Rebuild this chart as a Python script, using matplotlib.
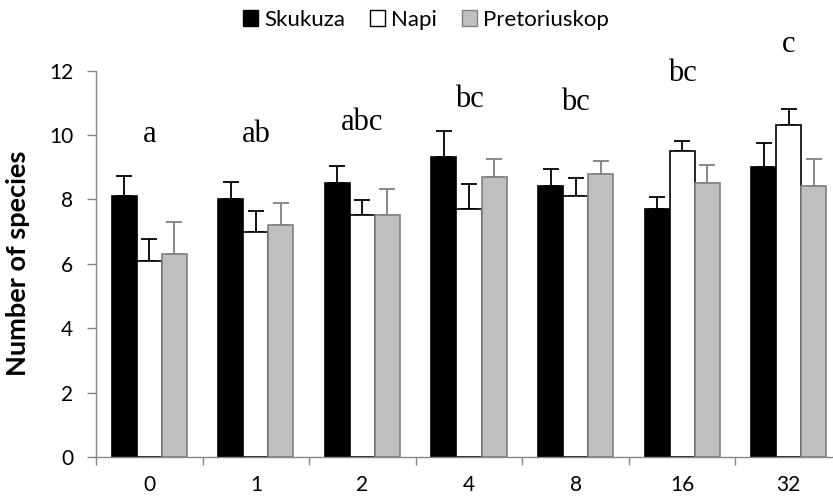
import matplotlib
matplotlib.use("Agg")
import matplotlib.pyplot as plt
import numpy as np
from matplotlib.patches import Patch

categories = ["0", "1", "2", "4", "8", "16", "32"]
sites = ["Skukuza", "Napi", "Pretoriuskop"]

skukuza = [8.1, 8.0, 8.5, 9.3, 8.4, 7.7, 9.0]
skukuza_err = [0.62, 0.53, 0.53, 0.83, 0.53, 0.38, 0.75]
napi = [6.1, 7.0, 7.5, 7.7, 8.1, 9.5, 10.3]
napi_err = [0.67, 0.65, 0.48, 0.78, 0.55, 0.32, 0.52]
pretoriuskop = [6.3, 7.2, 7.5, 8.7, 8.8, 8.5, 8.4]
pretoriuskop_err = [1.0, 0.7, 0.82, 0.54, 0.39, 0.57, 0.86]

letters = ["a", "ab", "abc", "bc", "bc", "bc", "c"]
letter_y = [10.0, 10.0, 10.4, 11.1, 11.0, 11.9, 12.8]

plt.rcParams["font.family"] = ["Lato", "DejaVu Sans"]

fig = plt.figure(figsize=(8.33, 5.04), dpi=100)
ax = fig.add_axes([96 / 833, 47 / 504, 746 / 833, 386.5 / 504])

x = np.arange(len(categories))
w = 0.235
axis_grey = "#868686"

styles = [
    dict(color="black", edgecolor="black", ecolor="black"),
    dict(color="white", edgecolor="black", ecolor="black"),
    dict(color="#bfbfbf", edgecolor="#808080", ecolor="#808080"),
]
series = [(skukuza, skukuza_err), (napi, napi_err), (pretoriuskop, pretoriuskop_err)]

for i, ((vals, errs), st) in enumerate(zip(series, styles)):
    pos = x + (i - 1) * w
    ax.bar(pos, vals, width=w, color=st["color"], edgecolor=st["edgecolor"],
           linewidth=1.2, zorder=2)
    ax.errorbar(pos, vals, yerr=[np.zeros(len(vals)), errs], fmt="none",
                ecolor=st["ecolor"], elinewidth=1.3, capsize=5.5, capthick=1.3,
                zorder=1)

for xi, lab, ly in zip(x, letters, letter_y):
    ax.text(xi, ly, lab, ha="center", va="center", fontsize=22,
            family="Liberation Serif", clip_on=False)

ax.set_xlim(-0.5, len(categories) - 0.5)
ax.set_ylim(0, 12)
ax.set_yticks(range(0, 13, 2))
ax.set_xticks(x)
ax.set_xticklabels(categories)
ax.set_xticks(np.arange(-0.5, len(categories), 1.0), minor=True)
ax.tick_params(axis="x", which="major", length=0, pad=13, labelsize=15)
ax.tick_params(axis="x", which="minor", length=6, color=axis_grey, width=1)
ax.tick_params(axis="y", length=6.5, color=axis_grey, width=1, labelsize=15, pad=10)

for s in ["top", "right"]:
    ax.spines[s].set_visible(False)
for s in ["left", "bottom"]:
    ax.spines[s].set_color(axis_grey)
    ax.spines[s].set_linewidth(1)

ax.set_ylabel("Number of species", fontsize=19.5, fontweight="bold")
ax.yaxis.set_label_coords(-0.088, 0.5)

handles = [Patch(facecolor=st["color"], edgecolor=st["edgecolor"], label=name)
           for st, name in zip(styles, sites)]
fig.legend(handles=handles, loc="center", bbox_to_anchor=(426 / 833, 1 - 20 / 504),
           ncol=3, frameon=False, fontsize=16, handlelength=0.7, handleheight=0.7,
           handletextpad=0.27, columnspacing=1.1, borderpad=0)

fig.savefig("out.png", dpi=100)
